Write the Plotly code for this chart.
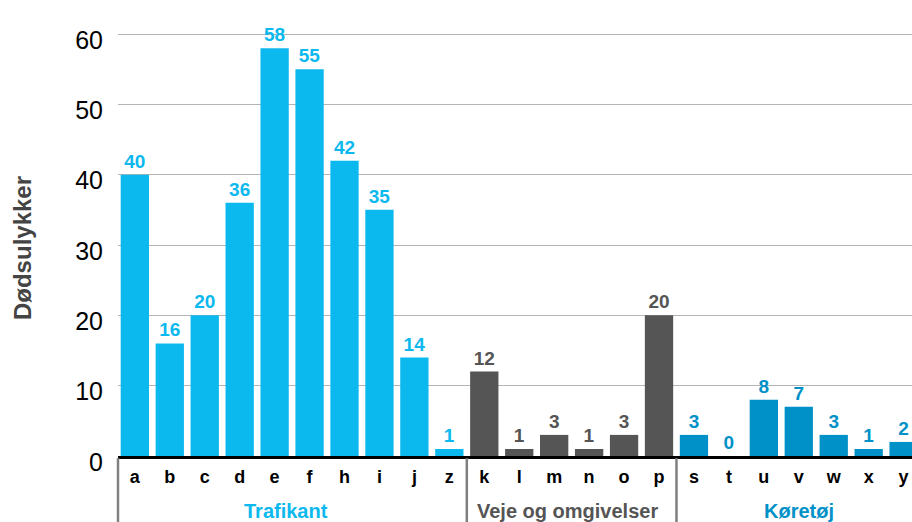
import plotly.graph_objects as go

# Fatal accidents by cause, grouped into three main categories
trafikant_cats = ["a", "b", "c", "d", "e", "f", "h", "i", "j", "z"]
trafikant_vals = [40, 16, 20, 36, 58, 55, 42, 35, 14, 1]

veje_cats = ["k", "l", "m", "n", "o", "p"]
veje_vals = [12, 1, 3, 1, 3, 20]

koretoj_cats = ["s", "t", "u", "v", "w", "x", "y"]
koretoj_vals = [3, 0, 8, 7, 3, 1, 2]

group_names = ["Trafikant", "Veje og omgivelser", "Køretøj"]
y_ticks = [0, 10, 20, 30, 40, 50, 60]

all_cats = trafikant_cats + veje_cats + koretoj_cats

C_TRAF = "#0bb9ee"
C_VEJE = "#555555"
C_KORE = "#0091c8"
FONT = "Liberation Sans, Arial, Helvetica, sans-serif"

fig = go.Figure()
for cats, vals, col in [
    (trafikant_cats, trafikant_vals, C_TRAF),
    (veje_cats, veje_vals, C_VEJE),
    (koretoj_cats, koretoj_vals, C_KORE),
]:
    fig.add_trace(go.Bar(
        x=cats, y=vals,
        marker=dict(color=col, line=dict(width=0)),
        text=[str(v) for v in vals],
        textposition="outside",
        textfont=dict(family=FONT, size=19, color=col, weight="bold"),
        cliponaxis=False,
        showlegend=False,
        hoverinfo="x+y",
    ))

split1 = len(trafikant_cats) - 0.5
split2 = len(trafikant_cats) + len(veje_cats) - 0.5

fig.update_layout(
    width=912, height=522,
    margin=dict(l=118, r=0, t=20, b=66),
    paper_bgcolor="white", plot_bgcolor="white",
    barmode="overlay", bargap=0.19,
    font=dict(family=FONT),
    xaxis=dict(
        type="category",
        categoryorder="array", categoryarray=all_cats,
        range=[-0.482, 22.24],
        showline=True, linecolor="black", linewidth=3,
        showgrid=False, ticks="",
        tickfont=dict(family=FONT, size=18, color="black", weight="bold"),
        ticklabelstandoff=2,
        fixedrange=True,
    ),
    yaxis=dict(
        range=[0, 62],
        tickvals=y_ticks,
        showgrid=True, gridcolor="#b4b4b4", gridwidth=1,
        zeroline=False, showline=False, ticks="",
        tickfont=dict(family=FONT, size=25, color="black"),
        ticklabelstandoff=14,
        ticklabelshift=6,
        fixedrange=True,
    ),
)

# group separators below the category axis
for xv, xref in [(0, "paper"), (split1, "x"), (split2, "x")]:
    fig.add_shape(type="line", xref=xref, yref="paper",
                  x0=xv, x1=xv, y0=-0.005, y1=-0.16,
                  line=dict(color="#808080", width=2.5), layer="above")

# group names
for name, xc, col in [
    (group_names[0], 4.33, C_TRAF),
    (group_names[1], 12.37, C_VEJE),
    (group_names[2], 19.0, C_KORE),
]:
    fig.add_annotation(text=name, x=xc, xref="x", y=-0.126, yref="paper",
                       xanchor="center", yanchor="middle", showarrow=False,
                       font=dict(family=FONT, size=20, color=col, weight="bold"))

# y-axis title
fig.add_annotation(text="Dødsulykker", textangle=-90,
                   x=-0.1209, xref="paper", y=0.477, yref="paper",
                   xanchor="center", yanchor="middle", showarrow=False,
                   font=dict(family=FONT, size=24, color="#444444", weight="bold"))

fig.write_html("out.html")
